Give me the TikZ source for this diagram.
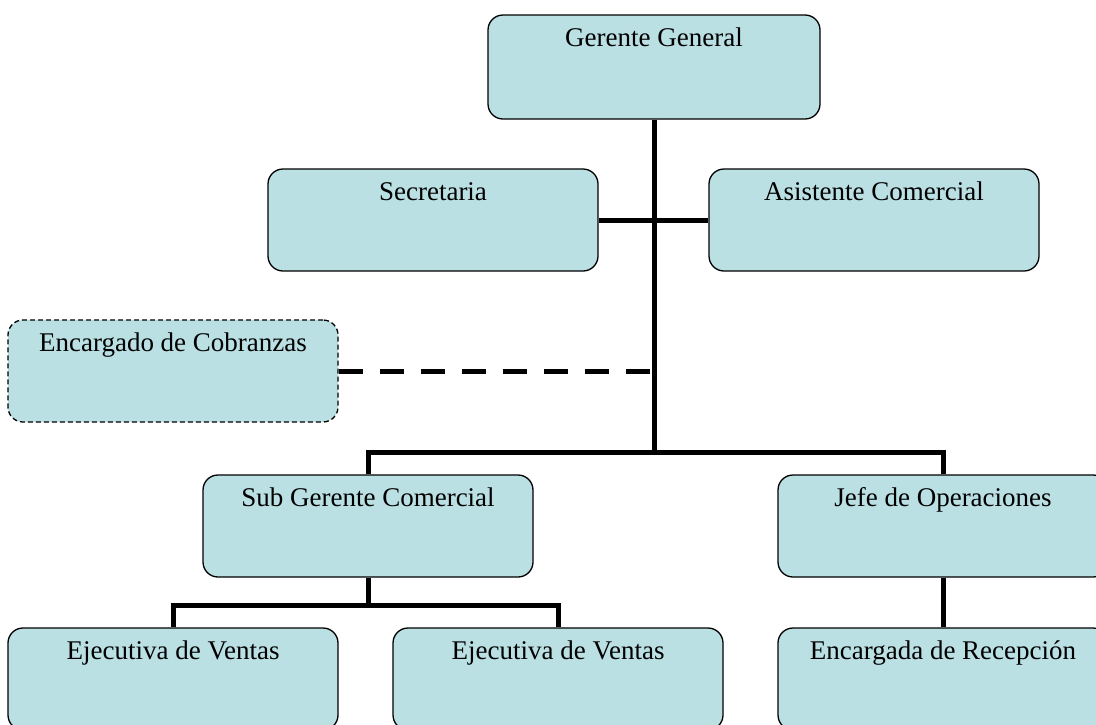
\documentclass[tikz,border=0pt]{standalone}
\usepackage{fontspec}
\setmainfont{Liberation Serif}
\definecolor{cargo}{RGB}{186,224,228}

\begin{document}
\begin{tikzpicture}[x=1pt,y=-1pt,
        puesto/.style={draw, line width=1.3pt, fill=cargo, rounded corners=15pt, minimum width=330pt, minimum height=102pt, inner sep=0pt},
        nombre/.style={anchor=base, yshift=-32pt, font=\fontsize{27}{32}\selectfont},
        linea/.style={line width=5pt}]
        \useasboundingbox (0,0) rectangle (1096,724);
        \node[puesto, minimum width=332pt, minimum height=104pt, label={[nombre]north:Gerente General}] (gg) at (654,67) {};
        \node[puesto, label={[nombre]north:Secretaria}] (sec) at (433,220) {};
        \node[puesto, label={[nombre]north:Asistente Comercial}] (asis) at (874,220) {};
        \node[puesto, dash pattern=on 5pt off 3pt, label={[nombre]north:Encargado de Cobranzas}] (cob) at (173,371) {};
        \node[puesto, label={[nombre]north:Sub Gerente Comercial}] (sub) at (368,526) {};
        \node[puesto, label={[nombre]north:Jefe de Operaciones}] (jefe) at (943,526) {};
        \node[puesto, label={[nombre]north:Ejecutiva de Ventas}] (ev1) at (173,679) {};
        \node[puesto, label={[nombre]north:Ejecutiva de Ventas}] (ev2) at (558,679) {};
        \node[puesto, label={[nombre]north:Encargada de Recepción}] (rec) at (943,679) {};
        \coordinate (cruce) at (654,452);
        \coordinate (ramal) at (368,605);
        \draw[linea] (gg.south) -- (cruce);
        \draw[linea] (sec.east) -- (asis.west);
        \draw[linea, dash pattern=on 24pt off 17pt] (cob.east) -- (cob.east -| gg.south);
        \draw[linea] (sub.north) |- (cruce) -| (jefe.north);
        \draw[linea] (sub.south) -- (ramal);
        \draw[linea] (ev1.north) |- (ramal) -| (ev2.north);
        \draw[linea] (jefe.south) -- (rec.north);
\end{tikzpicture}
\end{document}
